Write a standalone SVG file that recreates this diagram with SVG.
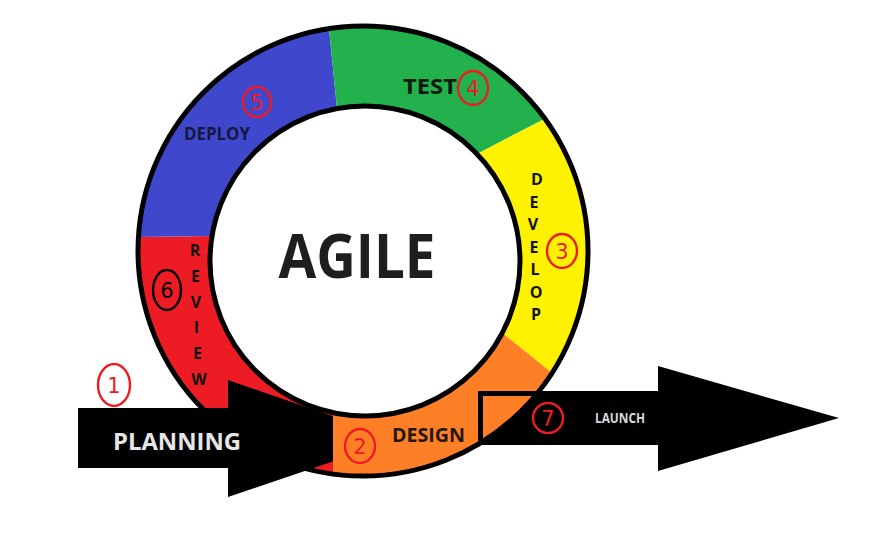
<svg xmlns="http://www.w3.org/2000/svg" width="875" height="536" viewBox="0 0 875 536">
  <style>
    .seg { stroke: none; }
    .ring { fill: none; stroke: #000; stroke-width: 5; }
    .lbl { font-family: "Open Sans", "Liberation Sans", sans-serif; font-weight: bold; }
    .vert { font-family: "Open Sans", "Liberation Sans", sans-serif; font-weight: bold; font-size: 16px; fill: #141414; text-anchor: middle; }
    .num { font-family: "DejaVu Sans", "Liberation Sans", sans-serif; font-size: 21px; text-anchor: middle; }
    .badge { fill: none; stroke-width: 2.4; }
  </style>
  <defs>
    <clipPath id="outerClip">
      <circle cx="363" cy="251" r="225"/>
    </clipPath>
  </defs>
  <rect width="875" height="536" fill="#fff"/>

  <!-- ring segments -->
  <g id="seg-review">
    <path class="seg" fill="#ed1c24" d="M333,474 A225,225 0 0 1 138.4,237 L212,236 A155,155 0 0 0 333,412.7 Z"/>
  </g>
  <g id="seg-deploy">
    <path class="seg" fill="#3f48cc" d="M138.4,237 A225,225 0 0 1 329,28.6 L337,108.6 A155,155 0 0 0 212,236 Z"/>
  </g>
  <g id="seg-test">
    <path class="seg" fill="#22b14c" d="M329,28.6 A225,225 0 0 1 545,118.7 L477,153.9 A155,155 0 0 0 337,108.6 Z"/>
  </g>
  <g id="seg-develop">
    <path class="seg" fill="#fff200" d="M545,118.7 A225,225 0 0 1 552,373.1 L502.3,333 A155,155 0 0 0 477,153.9 Z"/>
  </g>

  <g id="connectors">
    <!-- planning arrow entering the cycle -->
    <path id="arrow-planning" fill="#000" d="M78,408 L228,408 L228,380 L399,439 L228,497 L228,468 L78,468 Z"/>
  </g>

  <g id="seg-design">
    <path class="seg" fill="#ff7f27" d="M552,373.1 A225,225 0 0 1 333,474 L333,412.7 A155,155 0 0 0 502.3,333 Z"/>
  </g>

  <g id="launch">
    <!-- launch arrow leaving the cycle -->
    <path id="arrow-launch" fill="#000" d="M478,391 L658,391 L658,366 L839,418 L658,471 L658,445 L478,445 Z"/>
    <rect x="483" y="396" width="80" height="49" fill="#ff7f27" clip-path="url(#outerClip)"/>
  </g>

  <!-- ring outlines -->
  <g id="ring-outline">
    <circle class="ring" cx="363" cy="251" r="225"/>
    <circle class="ring" cx="365" cy="261" r="155"/>
  </g>

  <!-- labels -->
  <g id="labels">
    <text class="lbl" x="357" y="278" font-size="60" fill="#1e1e1e" text-anchor="middle" textLength="157" lengthAdjust="spacingAndGlyphs">AGILE</text>
    <text class="lbl" x="403" y="94" font-size="21" fill="#0f1a10" textLength="54" lengthAdjust="spacingAndGlyphs">TEST</text>
    <text class="lbl" x="184" y="140" font-size="17" fill="#15173c" textLength="66" lengthAdjust="spacingAndGlyphs">DEPLOY</text>
    <text class="lbl" x="392" y="442" font-size="20" fill="#24160c" textLength="73" lengthAdjust="spacingAndGlyphs">DESIGN</text>
    <text class="lbl" x="113" y="450" font-size="24" fill="#e6e6e6" textLength="128" lengthAdjust="spacingAndGlyphs">PLANNING</text>
    <text class="lbl" x="595" y="423" font-size="13.5" fill="#d9d9d9" textLength="50" lengthAdjust="spacingAndGlyphs">LAUNCH</text>

    <g id="develop-letters">
      <text class="vert" x="537" y="185">D</text>
      <text class="vert" x="534" y="207.5">E</text>
      <text class="vert" x="533" y="230">V</text>
      <text class="vert" x="534" y="252.5">E</text>
      <text class="vert" x="535" y="275">L</text>
      <text class="vert" x="536" y="297.5">O</text>
      <text class="vert" x="536" y="320">P</text>
    </g>
    <g id="review-letters">
      <text class="vert" x="195" y="256">R</text>
      <text class="vert" x="195.5" y="282">E</text>
      <text class="vert" x="196" y="307.5">V</text>
      <text class="vert" x="196.5" y="333">I</text>
      <text class="vert" x="197.5" y="359">E</text>
      <text class="vert" x="199" y="385">W</text>
    </g>
  </g>

  <!-- step numbers -->
  <g id="step-1">
    <ellipse class="badge" stroke="#ed1c24" cx="114" cy="385" rx="16" ry="21"/>
    <text class="num" fill="#ed1c24" x="114" y="393">1</text>
  </g>
  <g id="step-2">
    <ellipse class="badge" stroke="#ed1c24" cx="360" cy="446" rx="15" ry="17"/>
    <text class="num" fill="#ed1c24" x="360" y="454">2</text>
  </g>
  <g id="step-3">
    <ellipse class="badge" stroke="#ed1c24" cx="562" cy="251" rx="15" ry="17"/>
    <text class="num" fill="#ed1c24" x="562" y="259">3</text>
  </g>
  <g id="step-4">
    <ellipse class="badge" stroke="#ed1c24" cx="473" cy="88" rx="15" ry="17"/>
    <text class="num" fill="#ed1c24" x="473" y="96">4</text>
  </g>
  <g id="step-5">
    <ellipse class="badge" stroke="#ed1c24" cx="257" cy="102" rx="14" ry="15"/>
    <text class="num" fill="#ed1c24" x="257" y="110">5</text>
  </g>
  <g id="step-6">
    <ellipse class="badge" stroke="#000" cx="167" cy="290" rx="14" ry="20"/>
    <text class="num" fill="#000" x="167" y="298">6</text>
  </g>
  <g id="step-7">
    <ellipse class="badge" stroke="#ed1c24" cx="548" cy="418" rx="15" ry="15"/>
    <text class="num" fill="#ed1c24" x="548" y="426">7</text>
  </g>
</svg>
